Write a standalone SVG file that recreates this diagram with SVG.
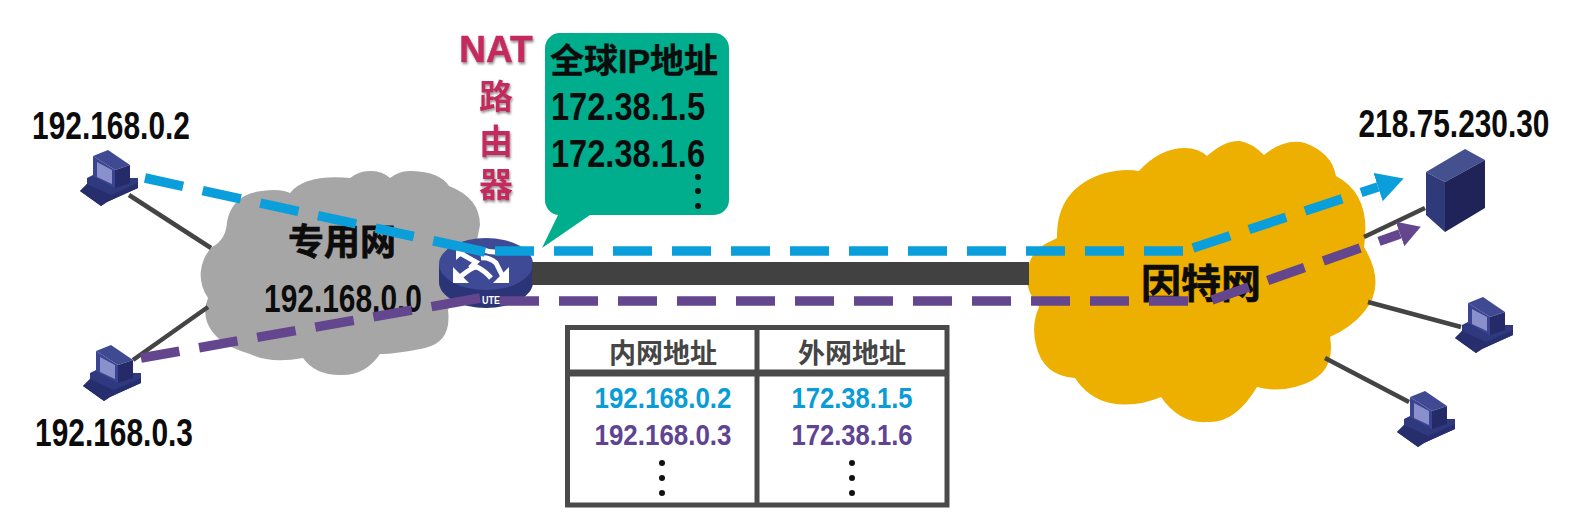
<svg xmlns="http://www.w3.org/2000/svg" xmlns:xlink="http://www.w3.org/1999/xlink" width="1590" height="516" viewBox="0 0 1590 516">
<style>
text{font-family:"Liberation Sans","Noto Sans CJK SC",sans-serif;font-weight:bold;fill:#0c0c0c}
.ip{font-size:38px;text-anchor:middle}
.cj{text-anchor:middle;stroke:#0c0c0c;stroke-width:.7px}
.th{font-size:27px;text-anchor:middle;fill:#454545}
.td{font-size:30px;text-anchor:middle}
.blue{fill:#0a9cd6}
.purple{fill:#5f4491}
.nat{fill:#c42c60;text-anchor:middle;filter:url(#sh)}
.cable{stroke:#444;stroke-width:4.5;fill:none}
.flow{fill:none;stroke-width:9.5;stroke-dasharray:39 20}
.fb{stroke:#0a9fdb}
.fp{stroke:#64468f}
.tl{stroke:#4a4a4a;fill:none}
</style>
<defs>
<filter id="sh" x="-20%" y="-20%" width="140%" height="140%"><feDropShadow dx="1" dy="2" stdDeviation="1" flood-color="#999"/></filter>
<marker id="ab" markerUnits="userSpaceOnUse" markerWidth="28" markerHeight="30" viewBox="0 0 28 30" refX="0" refY="15" orient="auto"><path d="M0 0L27 15L0 30Z" fill="#0a9fdb"/></marker>
<marker id="ap" markerUnits="userSpaceOnUse" markerWidth="22" markerHeight="26" viewBox="0 0 22 26" refX="0" refY="13" orient="auto"><path d="M0 0L22 13L0 26Z" fill="#64468f"/></marker>
<symbol id="pc" width="59" height="56" viewBox="0 0 59 56" overflow="visible">
<path d="M6 28L12 25L49 28L57 28L57 38L37 47L26 52L20 56L-1 41L6 34Z" fill="#2f3a7e"/>
<path d="M6 34L30 45L57 33L57 38L37 47L26 52L20 56L-1 41Z" fill="#262e6e"/>
<path d="M12 6L27 0L49 15L34 20Z" fill="#3f4a92"/>
<path d="M12 6L34 20L34 38L12 26Z" fill="#3a4490"/>
<path d="M34 20L49 15L49 33L34 38Z" fill="#252a68"/>
<path d="M16 12L31 20L31 34L16 27Z" fill="#8a90cc"/>
</symbol>
</defs>
<rect width="1590" height="516" fill="#fff"/>
<g id="private-net">
<path d="M208 298A40 40 0 0 1 212 247Q226 240 227 222Q232 194 262 191Q280 188 290 193Q305 174 350 178Q360 170 372 171Q382 171 390 178Q400 170 412 171Q440 172 449 186Q480 198 480 225L477 240L448 310Q452 342 425 348Q395 354 380 354Q365 376 340 375Q315 375 303 358Q270 364 250 354Q215 344 207 322Q203 310 208 298Z" fill="#a6a6a6"/>
<text class="cj" x="342" y="255" font-size="36">专用网</text>
<text class="ip" x="343" y="312" textLength="158" lengthAdjust="spacingAndGlyphs">192.168.0.0</text>
</g>
<g id="internet">
<path d="M1039 307Q1016 280 1036 250Q1046 243 1057 238Q1056 188 1105 173Q1125 168 1139 171Q1160 148 1185 148Q1198 148 1207 156Q1225 140 1240 141Q1252 143 1264 155Q1285 138 1305 143Q1332 153 1336 176Q1372 195 1364 247Q1387 285 1364 312Q1352 327 1330 337Q1337 377 1295 387Q1275 392 1257 387Q1235 424 1207 422Q1180 424 1161 397Q1135 408 1110 403Q1088 398 1075 378Q1043 376 1036 345Q1031 325 1039 307Z" fill="#edb000"/>
<text class="cj" x="1201" y="298" font-size="40">因特网</text>
</g>
<g id="pc-a"><use xlink:href="#pc" href="#pc" x="81" y="150"/><text class="ip" x="111" y="139" textLength="158" lengthAdjust="spacingAndGlyphs">192.168.0.2</text></g>
<g id="pc-b"><use xlink:href="#pc" href="#pc" x="84" y="345"/><text class="ip" x="114" y="446" textLength="158" lengthAdjust="spacingAndGlyphs">192.168.0.3</text></g>
<g id="pc-c"><use xlink:href="#pc" href="#pc" x="1456" y="297"/></g>
<g id="pc-d"><use xlink:href="#pc" href="#pc" x="1398" y="391"/></g>
<g id="server">
<path d="M1465 149L1485 160L1445 182L1426 172Z" fill="#45508f"/>
<path d="M1426 172L1445 182L1445 232L1426 215Z" fill="#2f3a7a"/>
<path d="M1445 182L1485 160L1485 208L1445 232Z" fill="#1f2358"/>
<text class="ip" transform="translate(1454 137) scale(.786 1)">218.75.230.30</text>
</g>
<g id="router">
<path d="M439 264V282A47 26 0 0 0 533 282V264Z" fill="#2c3478"/>
<ellipse cx="486" cy="264" rx="47" ry="26" fill="#3e4a96"/>
<g fill="#fff"><path d="M453 267V283H469Z"/><path d="M509 267V283H493Z"/><path d="M456 248L470 248L456 260Z"/></g>
<path d="M460 277Q472 267 477 267Q485 271 491 278M503 277L496 263Q489 257 481 258M458 252L476 262L470 268M484 250Q494 254 504 250" fill="none" stroke="#fff" stroke-width="5"/>
<text x="491" y="304" text-anchor="middle" font-size="11" textLength="18" lengthAdjust="spacingAndGlyphs" style="fill:#fff">UTE</text>
</g>
<g id="nat-label">
<text class="nat" x="496" y="62" font-size="37" stroke="#c42c60" stroke-width=".6">NAT</text>
<text class="nat" x="496" y="109" font-size="34">路</text>
<text class="nat" x="496" y="154" font-size="34">由</text>
<text class="nat" x="496" y="197" font-size="34">器</text>
</g>
<g id="callout">
<path d="M560 33H714A15 15 0 0 1 729 48V200A15 15 0 0 1 714 215H590L542 248L558 215A15 15 0 0 1 545 200V48A15 15 0 0 1 560 33Z" fill="#00ae8d"/>
<text x="550" y="73" font-size="34" stroke="#0c0c0c" stroke-width=".4">全球IP地址</text>
<text x="551" y="120" font-size="38" textLength="154" lengthAdjust="spacingAndGlyphs">172.38.1.5</text>
<text x="551" y="167" font-size="38" textLength="154" lengthAdjust="spacingAndGlyphs">172.38.1.6</text>
<g fill="#111"><circle cx="698" cy="177" r="3"/><circle cx="698" cy="191" r="3"/><circle cx="698" cy="206" r="3"/></g>
</g>
<g id="table">
<rect class="tl" x="567.500" y="327.500" width="379.500" height="177.500" stroke-width="5"/>
<path class="tl" d="M757 327V505" stroke-width="5"/>
<path class="tl" d="M567 373H947" stroke-width="7"/>
<text class="th" x="663" y="363">内网地址</text>
<text class="th" x="852" y="363">外网地址</text>
<text class="td blue" x="663" y="408" textLength="137" lengthAdjust="spacingAndGlyphs">192.168.0.2</text>
<text class="td purple" x="663" y="445" textLength="137" lengthAdjust="spacingAndGlyphs">192.168.0.3</text>
<text class="td blue" x="852" y="408" textLength="121" lengthAdjust="spacingAndGlyphs">172.38.1.5</text>
<text class="td purple" x="852" y="445" textLength="121" lengthAdjust="spacingAndGlyphs">172.38.1.6</text>
<g fill="#111"><circle cx="662" cy="463" r="3"/><circle cx="662" cy="478" r="3"/><circle cx="662" cy="493" r="3"/><circle cx="852" cy="463" r="3"/><circle cx="852" cy="478" r="3"/><circle cx="852" cy="493" r="3"/></g>
</g>
<g id="connectors">
<path class="cable" d="M129 195L211 248"/>
<path class="cable" d="M133 360L208 307"/>
<path class="cable" d="M1425 208L1364 237"/>
<path class="cable" d="M1368 302L1461 327"/>
<path class="cable" d="M1325 358L1409 402"/>
<path d="M532 273.500H1029" stroke="#414141" stroke-width="23" fill="none"/>
<path class="flow fb" d="M145 178L485 252" style="stroke-dasharray:39 20 39 20 39 20 39 20 39 20 54 20"/>
<path class="flow fb" d="M495 251H1185"/>
<path class="flow fb" d="M1193 248L1378 187" marker-end="url(#ab)"/>
<path class="flow fp" d="M141 358L480 298" style="stroke-dasharray:39 20 39 20 39 20 39 20 39 20 52 20"/>
<path class="flow fp" d="M500 301H1202"/>
<path class="flow fp" d="M1212 300L1400 234" marker-end="url(#ap)"/>
</g>
</svg>
